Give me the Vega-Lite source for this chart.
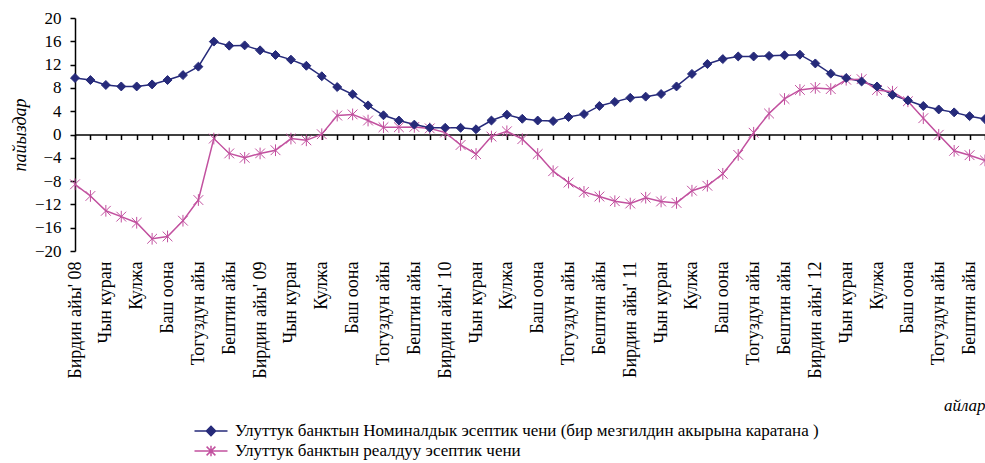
{
  "$schema": "https://vega.github.io/schema/vega-lite/v6.json",
  "width": 910,
  "height": 233,
  "autosize": {"type": "none"},
  "padding": {"left": 75, "top": 18, "right": 0, "bottom": 212},
  "background": "white",
  "config": {"view": {"stroke": null}, "font": "Liberation Serif",
    "axisY": {"labelOverlap": false, "labelFont": "Liberation Serif", "labelFontSize": 17, "labelColor": "black"},
    "axisX": {"labelOverlap": false, "labelFont": "Liberation Serif", "labelFontSize": 18, "labelColor": "black"}},
  "data": {"values": [
    {"m":"2008-01","s":"Улуттук банктын Номиналдык эсептик чени  (бир мезгилдин акырына каратана )","v":9.7},
    {"m":"2008-02","s":"Улуттук банктын Номиналдык эсептик чени  (бир мезгилдин акырына каратана )","v":9.35},
    {"m":"2008-03","s":"Улуттук банктын Номиналдык эсептик чени  (бир мезгилдин акырына каратана )","v":8.5},
    {"m":"2008-04","s":"Улуттук банктын Номиналдык эсептик чени  (бир мезгилдин акырына каратана )","v":8.25},
    {"m":"2008-05","s":"Улуттук банктын Номиналдык эсептик чени  (бир мезгилдин акырына каратана )","v":8.25},
    {"m":"2008-06","s":"Улуттук банктын Номиналдык эсептик чени  (бир мезгилдин акырына каратана )","v":8.6},
    {"m":"2008-07","s":"Улуттук банктын Номиналдык эсептик чени  (бир мезгилдин акырына каратана )","v":9.35},
    {"m":"2008-08","s":"Улуттук банктын Номиналдык эсептик чени  (бир мезгилдин акырына каратана )","v":10.2},
    {"m":"2008-09","s":"Улуттук банктын Номиналдык эсептик чени  (бир мезгилдин акырына каратана )","v":11.65},
    {"m":"2008-10","s":"Улуттук банктын Номиналдык эсептик чени  (бир мезгилдин акырына каратана )","v":15.95},
    {"m":"2008-11","s":"Улуттук банктын Номиналдык эсептик чени  (бир мезгилдин акырына каратана )","v":15.25},
    {"m":"2008-12","s":"Улуттук банктын Номиналдык эсептик чени  (бир мезгилдин акырына каратана )","v":15.3},
    {"m":"2009-01","s":"Улуттук банктын Номиналдык эсептик чени  (бир мезгилдин акырына каратана )","v":14.45},
    {"m":"2009-02","s":"Улуттук банктын Номиналдык эсептик чени  (бир мезгилдин акырына каратана )","v":13.65},
    {"m":"2009-03","s":"Улуттук банктын Номиналдык эсептик чени  (бир мезгилдин акырына каратана )","v":12.85},
    {"m":"2009-04","s":"Улуттук банктын Номиналдык эсептик чени  (бир мезгилдин акырына каратана )","v":11.8},
    {"m":"2009-05","s":"Улуттук банктын Номиналдык эсептик чени  (бир мезгилдин акырына каратана )","v":10.0},
    {"m":"2009-06","s":"Улуттук банктын Номиналдык эсептик чени  (бир мезгилдин акырына каратана )","v":8.15},
    {"m":"2009-07","s":"Улуттук банктын Номиналдык эсептик чени  (бир мезгилдин акырына каратана )","v":6.9},
    {"m":"2009-08","s":"Улуттук банктын Номиналдык эсептик чени  (бир мезгилдин акырына каратана )","v":5.0},
    {"m":"2009-09","s":"Улуттук банктын Номиналдык эсептик чени  (бир мезгилдин акырына каратана )","v":3.3},
    {"m":"2009-10","s":"Улуттук банктын Номиналдык эсептик чени  (бир мезгилдин акырына каратана )","v":2.4},
    {"m":"2009-11","s":"Улуттук банктын Номиналдык эсептик чени  (бир мезгилдин акырына каратана )","v":1.7},
    {"m":"2009-12","s":"Улуттук банктын Номиналдык эсептик чени  (бир мезгилдин акырына каратана )","v":1.15},
    {"m":"2010-01","s":"Улуттук банктын Номиналдык эсептик чени  (бир мезгилдин акырына каратана )","v":1.15},
    {"m":"2010-02","s":"Улуттук банктын Номиналдык эсептик чени  (бир мезгилдин акырына каратана )","v":1.15},
    {"m":"2010-03","s":"Улуттук банктын Номиналдык эсептик чени  (бир мезгилдин акырына каратана )","v":0.9},
    {"m":"2010-04","s":"Улуттук банктын Номиналдык эсептик чени  (бир мезгилдин акырына каратана )","v":2.4},
    {"m":"2010-05","s":"Улуттук банктын Номиналдык эсептик чени  (бир мезгилдин акырына каратана )","v":3.4},
    {"m":"2010-06","s":"Улуттук банктын Номиналдык эсептик чени  (бир мезгилдин акырына каратана )","v":2.7},
    {"m":"2010-07","s":"Улуттук банктын Номиналдык эсептик чени  (бир мезгилдин акырына каратана )","v":2.4},
    {"m":"2010-08","s":"Улуттук банктын Номиналдык эсептик чени  (бир мезгилдин акырына каратана )","v":2.3},
    {"m":"2010-09","s":"Улуттук банктын Номиналдык эсептик чени  (бир мезгилдин акырына каратана )","v":3.0},
    {"m":"2010-10","s":"Улуттук банктын Номиналдык эсептик чени  (бир мезгилдин акырына каратана )","v":3.5},
    {"m":"2010-11","s":"Улуттук банктын Номиналдык эсептик чени  (бир мезгилдин акырына каратана )","v":4.9},
    {"m":"2010-12","s":"Улуттук банктын Номиналдык эсептик чени  (бир мезгилдин акырына каратана )","v":5.6},
    {"m":"2011-01","s":"Улуттук банктын Номиналдык эсептик чени  (бир мезгилдин акырына каратана )","v":6.3},
    {"m":"2011-02","s":"Улуттук банктын Номиналдык эсептик чени  (бир мезгилдин акырына каратана )","v":6.5},
    {"m":"2011-03","s":"Улуттук банктын Номиналдык эсептик чени  (бир мезгилдин акырына каратана )","v":6.95},
    {"m":"2011-04","s":"Улуттук банктын Номиналдык эсептик чени  (бир мезгилдин акырына каратана )","v":8.25},
    {"m":"2011-05","s":"Улуттук банктын Номиналдык эсептик чени  (бир мезгилдин акырына каратана )","v":10.4},
    {"m":"2011-06","s":"Улуттук банктын Номиналдык эсептик чени  (бир мезгилдин акырына каратана )","v":12.1},
    {"m":"2011-07","s":"Улуттук банктын Номиналдык эсептик чени  (бир мезгилдин акырына каратана )","v":12.95},
    {"m":"2011-08","s":"Улуттук банктын Номиналдык эсептик чени  (бир мезгилдин акырына каратана )","v":13.4},
    {"m":"2011-09","s":"Улуттук банктын Номиналдык эсептик чени  (бир мезгилдин акырына каратана )","v":13.4},
    {"m":"2011-10","s":"Улуттук банктын Номиналдык эсептик чени  (бир мезгилдин акырына каратана )","v":13.5},
    {"m":"2011-11","s":"Улуттук банктын Номиналдык эсептик чени  (бир мезгилдин акырына каратана )","v":13.6},
    {"m":"2011-12","s":"Улуттук банктын Номиналдык эсептик чени  (бир мезгилдин акырына каратана )","v":13.7},
    {"m":"2012-01","s":"Улуттук банктын Номиналдык эсептик чени  (бир мезгилдин акырына каратана )","v":12.2},
    {"m":"2012-02","s":"Улуттук банктын Номиналдык эсептик чени  (бир мезгилдин акырына каратана )","v":10.45},
    {"m":"2012-03","s":"Улуттук банктын Номиналдык эсептик чени  (бир мезгилдин акырына каратана )","v":9.7},
    {"m":"2012-04","s":"Улуттук банктын Номиналдык эсептик чени  (бир мезгилдин акырына каратана )","v":9.1},
    {"m":"2012-05","s":"Улуттук банктын Номиналдык эсептик чени  (бир мезгилдин акырына каратана )","v":8.25},
    {"m":"2012-06","s":"Улуттук банктын Номиналдык эсептик чени  (бир мезгилдин акырына каратана )","v":6.8},
    {"m":"2012-07","s":"Улуттук банктын Номиналдык эсептик чени  (бир мезгилдин акырына каратана )","v":5.85},
    {"m":"2012-08","s":"Улуттук банктын Номиналдык эсептик чени  (бир мезгилдин акырына каратана )","v":4.9},
    {"m":"2012-09","s":"Улуттук банктын Номиналдык эсептик чени  (бир мезгилдин акырына каратана )","v":4.3},
    {"m":"2012-10","s":"Улуттук банктын Номиналдык эсептик чени  (бир мезгилдин акырына каратана )","v":3.8},
    {"m":"2012-11","s":"Улуттук банктын Номиналдык эсептик чени  (бир мезгилдин акырына каратана )","v":3.15},
    {"m":"2012-12","s":"Улуттук банктын Номиналдык эсептик чени  (бир мезгилдин акырына каратана )","v":2.65},
    {"m":"2008-01","s":"Улуттук банктын реалдуу эсептик чени","v":-8.55},
    {"m":"2008-02","s":"Улуттук банктын реалдуу эсептик чени","v":-10.55},
    {"m":"2008-03","s":"Улуттук банктын реалдуу эсептик чени","v":-13.1},
    {"m":"2008-04","s":"Улуттук банктын реалдуу эсептик чени","v":-14.1},
    {"m":"2008-05","s":"Улуттук банктын реалдуу эсептик чени","v":-15.15},
    {"m":"2008-06","s":"Улуттук банктын реалдуу эсептик чени","v":-17.9},
    {"m":"2008-07","s":"Улуттук банктын реалдуу эсептик чени","v":-17.5},
    {"m":"2008-08","s":"Улуттук банктын реалдуу эсептик чени","v":-14.8},
    {"m":"2008-09","s":"Улуттук банктын реалдуу эсептик чени","v":-11.25},
    {"m":"2008-10","s":"Улуттук банктын реалдуу эсептик чени","v":-0.7},
    {"m":"2008-11","s":"Улуттук банктын реалдуу эсептик чени","v":-3.25},
    {"m":"2008-12","s":"Улуттук банктын реалдуу эсептик чени","v":-4.0},
    {"m":"2009-01","s":"Улуттук банктын реалдуу эсептик чени","v":-3.25},
    {"m":"2009-02","s":"Улуттук банктын реалдуу эсептик чени","v":-2.7},
    {"m":"2009-03","s":"Улуттук банктын реалдуу эсептик чени","v":-0.7},
    {"m":"2009-04","s":"Улуттук банктын реалдуу эсептик чени","v":-1.0},
    {"m":"2009-05","s":"Улуттук банктын реалдуу эсептик чени","v":0.05},
    {"m":"2009-06","s":"Улуттук банктын реалдуу эсептик чени","v":3.25},
    {"m":"2009-07","s":"Улуттук банктын реалдуу эсептик чени","v":3.45},
    {"m":"2009-08","s":"Улуттук банктын реалдуу эсептик чени","v":2.4},
    {"m":"2009-09","s":"Улуттук банктын реалдуу эсептик чени","v":1.25},
    {"m":"2009-10","s":"Улуттук банктын реалдуу эсептик чени","v":1.25},
    {"m":"2009-11","s":"Улуттук банктын реалдуу эсептик чени","v":1.3},
    {"m":"2009-12","s":"Улуттук банктын реалдуу эсептик чени","v":1.05},
    {"m":"2010-01","s":"Улуттук банктын реалдуу эсептик чени","v":0.35},
    {"m":"2010-02","s":"Улуттук банктын реалдуу эсептик чени","v":-1.8},
    {"m":"2010-03","s":"Улуттук банктын реалдуу эсептик чени","v":-3.35},
    {"m":"2010-04","s":"Улуттук банктын реалдуу эсептик чени","v":-0.35},
    {"m":"2010-05","s":"Улуттук банктын реалдуу эсептик чени","v":0.55},
    {"m":"2010-06","s":"Улуттук банктын реалдуу эсептик чени","v":-0.8},
    {"m":"2010-07","s":"Улуттук банктын реалдуу эсептик чени","v":-3.35},
    {"m":"2010-08","s":"Улуттук банктын реалдуу эсептик чени","v":-6.3},
    {"m":"2010-09","s":"Улуттук банктын реалдуу эсептик чени","v":-8.25},
    {"m":"2010-10","s":"Улуттук банктын реалдуу эсептик чени","v":-9.85},
    {"m":"2010-11","s":"Улуттук банктын реалдуу эсептик чени","v":-10.65},
    {"m":"2010-12","s":"Улуттук банктын реалдуу эсептик чени","v":-11.45},
    {"m":"2011-01","s":"Улуттук банктын реалдуу эсептик чени","v":-11.85},
    {"m":"2011-02","s":"Улуттук банктын реалдуу эсептик чени","v":-10.85},
    {"m":"2011-03","s":"Улуттук банктын реалдуу эсептик чени","v":-11.5},
    {"m":"2011-04","s":"Улуттук банктын реалдуу эсептик чени","v":-11.75},
    {"m":"2011-05","s":"Улуттук банктын реалдуу эсептик чени","v":-9.65},
    {"m":"2011-06","s":"Улуттук банктын реалдуу эсептик чени","v":-8.8},
    {"m":"2011-07","s":"Улуттук банктын реалдуу эсептик чени","v":-6.75},
    {"m":"2011-08","s":"Улуттук банктын реалдуу эсептик чени","v":-3.5},
    {"m":"2011-09","s":"Улуттук банктын реалдуу эсептик чени","v":0.3},
    {"m":"2011-10","s":"Улуттук банктын реалдуу эсептик чени","v":3.6},
    {"m":"2011-11","s":"Улуттук банктын реалдуу эсептик чени","v":6.1},
    {"m":"2011-12","s":"Улуттук банктын реалдуу эсептик чени","v":7.65},
    {"m":"2012-01","s":"Улуттук банктын реалдуу эсептик чени","v":8.0},
    {"m":"2012-02","s":"Улуттук банктын реалдуу эсептик чени","v":7.8},
    {"m":"2012-03","s":"Улуттук банктын реалдуу эсептик чени","v":9.4},
    {"m":"2012-04","s":"Улуттук банктын реалдуу эсептик чени","v":9.5},
    {"m":"2012-05","s":"Улуттук банктын реалдуу эсептик чени","v":7.65},
    {"m":"2012-06","s":"Улуттук банктын реалдуу эсептик чени","v":7.35},
    {"m":"2012-07","s":"Улуттук банктын реалдуу эсептик чени","v":5.7},
    {"m":"2012-08","s":"Улуттук банктын реалдуу эсептик чени","v":2.8},
    {"m":"2012-09","s":"Улуттук банктын реалдуу эсептик чени","v":-0.05},
    {"m":"2012-10","s":"Улуттук банктын реалдуу эсептик чени","v":-2.8},
    {"m":"2012-11","s":"Улуттук банктын реалдуу эсептик чени","v":-3.55},
    {"m":"2012-12","s":"Улуттук банктын реалдуу эсептик чени","v":-4.45}
  ]},
  "resolve": {"axis": {"x": "independent"}},
  "layer": [
    {
      "mark": {"type": "line", "strokeWidth": 1.5},
      "encoding": {
        "x": {"field": "m", "type": "ordinal", "sort": "ascending",
          "scale": {"type": "point", "padding": 0},
          "axis": {"orient": "bottom", "offset": -116.5, "labels": false, "title": null,
            "domain": true, "domainColor": "black", "domainWidth": 1.5,
            "ticks": true, "tickColor": "black", "tickSize": 5, "tickWidth": 1.5, "grid": false, "zindex": 0}},
        "y": {"field": "v", "type": "quantitative",
          "scale": {"domain": [-20, 20], "nice": false, "zero": false},
          "axis": {"values": [-20, -16, -12, -8, -4, 0, 4, 8, 12, 16, 20], "grid": false, "labelOverlap": false,
            "domainColor": "black", "domainWidth": 1.5, "tickColor": "black", "tickSize": 5, "tickWidth": 1.5,
            "labelFont": "Liberation Serif", "labelFontSize": 17, "labelColor": "black", "labelPadding": 9,
            "title": "пайыздар", "titleFont": "Liberation Serif", "titleFontStyle": "italic", "titleFontWeight": "normal",
            "titleFontSize": 18, "titleColor": "black", "titleX": -55, "titleY": 116.5, "titleAngle": -90,
            "titleAlign": "center", "titleBaseline": "middle"}},
        "color": {"field": "s", "type": "nominal",
          "scale": {"domain": ["Улуттук банктын Номиналдык эсептик чени  (бир мезгилдин акырына каратана )", "Улуттук банктын реалдуу эсептик чени"], "range": ["#262A7A", "#C2519F"]},
          "legend": {"orient": "none", "legendX": 124, "legendY": 401, "title": null, "direction": "vertical", "padding": 0,
            "labelFont": "Liberation Serif", "labelFontSize": 17, "labelColor": "black", "labelLimit": 0,
            "symbolSize": 484, "labelOffset": 12, "rowPadding": 0,
            "encode": {"symbols": {"update": {
              "shape": {"signal": "datum.value == 'Улуттук банктын реалдуу эсептик чени' ? 'M-1.5,0L1.5,0M-0.4,-0.4L0.4,0.4M-0.4,0.4L0.4,-0.4M0,-0.48L0,0.48' : 'M-1.5,0L1.5,0M0,-0.42L0.42,0L0,0.42L-0.42,0Z'"},
              "fill": {"signal": "datum.value == 'Улуттук банктын реалдуу эсептик чени' ? 'transparent' : '#262A7A'"},
              "stroke": {"signal": "datum.value == 'Улуттук банктын реалдуу эсептик чени' ? '#C2519F' : '#262A7A'"},
              "strokeWidth": {"value": 1.5},
              "opacity": {"value": 1}
            }}}}
        }
      }
    },
    {
      "transform": [{"filter": "datum.s == 'Улуттук банктын реалдуу эсептик чени'"}],
      "mark": {"type": "point", "filled": false, "strokeWidth": 1, "opacity": 1, "color": "#C2519F", "stroke": "#C2519F",
        "shape": "M-1,-1L1,1M-1,1L1,-1M0,-1.2L0,1.2", "size": 95},
      "encoding": {
        "x": {"field": "m", "type": "ordinal", "sort": "ascending",
          "scale": {"type": "point", "padding": 0},
          "axis": {"orient": "bottom", "domain": false, "ticks": false, "grid": false,
            "labelAngle": -90, "labelPadding": 10, "labelFont": "Liberation Serif", "labelFontSize": 18, "labelColor": "black",
            "labelOverlap": false, "labelBound": false, "labelFlush": false,
            "labelExpr": "toNumber(slice(datum.value,5,7)) % 2 == 0 ? '' : ['Бирдин айы','','Чын куран','','Кулжа','','Баш оона','','Тогуздун айы','','Бештин айы',''][toNumber(slice(datum.value,5,7))-1] + (slice(datum.value,5,7) == '01' ? \"' \" + slice(datum.value,2,4) : '')",
            "title": "айлар", "titleFont": "Liberation Serif", "titleFontStyle": "italic", "titleFontWeight": "normal",
            "titleFontSize": 17, "titleColor": "black", "titleX": 910, "titleY": 159, "titleAlign": "right", "titleBaseline": "alphabetic", "titleAngle": 0}},
        "y": {"field": "v", "type": "quantitative", "axis": {"values": [-20, -16, -12, -8, -4, 0, 4, 8, 12, 16, 20], "labelOverlap": false}}
      }
    },
    {
      "transform": [{"filter": "datum.s != 'Улуттук банктын реалдуу эсептик чени'"}],
      "mark": {"type": "point", "filled": true, "strokeWidth": 1, "opacity": 1, "color": "#262A7A", "stroke": "#262A7A",
        "shape": "diamond", "size": 80},
      "encoding": {
        "x": {"field": "m", "type": "ordinal", "sort": "ascending",
          "scale": {"type": "point", "padding": 0}, "axis": null},
        "y": {"field": "v", "type": "quantitative", "axis": {"values": [-20, -16, -12, -8, -4, 0, 4, 8, 12, 16, 20], "labelOverlap": false}}
      }
    }
  ]
}
